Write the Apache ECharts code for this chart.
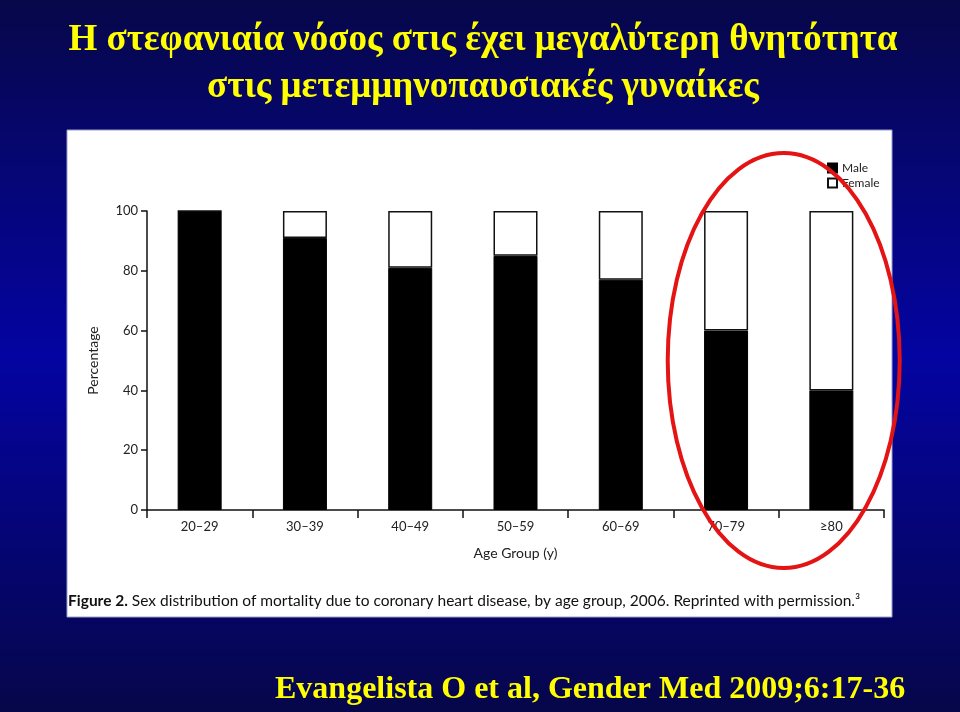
<!DOCTYPE html>
<html>
<head>
<meta charset="utf-8">
<script src="https://cdn.jsdelivr.net/npm/echarts@6/dist/echarts.min.js"></script>
<style>
  html, body { margin: 0; padding: 0; }
  #main { width: 960px; height: 712px; }
</style>
</head>
<body>
<div id="main"></div>
<script>
(function () {
    'use strict';

    // data
    var ageGroups = ['20–29', '30–39', '40–49', '50–59', '60–69', '70–79', '≥80'];
    var maleShare = [100, 91, 81, 85, 77, 60, 40];
    var femaleShare = [0, 9, 19, 15, 23, 40, 60];
    var yTicks = [0, 20, 40, 60, 80, 100];

    var titleLines = ['Η στεφανιαία νόσος στις έχει μεγαλύτερη θνητότητα', 'στις μετεμμηνοπαυσιακές γυναίκες'];
    var sourceText = 'Evangelista O et al, Gender Med 2009;6:17-36';
    var captionText = 'Sex distribution of mortality due to coronary heart disease, by age group, 2006. Reprinted with permission.³';

    var SANS = 'Lato, "Open Sans", sans-serif';
    var SERIF = '"Liberation Serif", "DejaVu Serif", serif';

    var yellowText = function (txt, x, y, size, align) {
        return {
            type: 'text',
            z: 10,
            silent: true,
            x: x,
            y: y,
            style: {
                text: txt,
                fill: '#ffff00',
                font: 'bold ' + size + 'px ' + SERIF,
                textAlign: align,
                textVerticalAlign: 'middle',
                shadowColor: 'rgba(0,0,0,0.85)',
                shadowOffsetX: 2,
                shadowOffsetY: 2,
                shadowBlur: 2
            }
        };
    };

    var chart = echarts.init(document.getElementById('main'));

    var option = {
        animation: false,
        legend: {
            orient: 'vertical',
            left: 822,
            top: 157,
            icon: 'rect',
            itemWidth: 9,
            itemHeight: 9,
            itemGap: 3,
            textStyle: { fontFamily: SANS, fontSize: 12, color: '#222' },
            data: ['Male', 'Female']
        },
        grid: { left: 147, right: 76, top: 211, bottom: 202, containLabel: false },
        xAxis: {
            type: 'category',
            data: ageGroups,
            name: 'Age Group (y)',
            nameLocation: 'middle',
            nameGap: 36,
            nameTextStyle: { fontFamily: SANS, fontSize: 14, color: '#222' },
            axisLine: { lineStyle: { color: '#111', width: 1.5 } },
            axisTick: { show: true, length: 8, inside: false, lineStyle: { color: '#111', width: 1.5 } },
            axisLabel: { fontFamily: SANS, fontSize: 13, color: '#222', margin: 10 }
        },
        yAxis: {
            type: 'value',
            min: yTicks[0],
            max: yTicks[yTicks.length - 1],
            interval: 20,
            name: 'Percentage',
            nameLocation: 'middle',
            nameGap: 47,
            nameRotate: 90,
            nameTextStyle: { fontFamily: SANS, fontSize: 14, color: '#222' },
            axisLine: { show: true, lineStyle: { color: '#111', width: 1.5 } },
            axisTick: { show: true, length: 6, lineStyle: { color: '#111', width: 1.5 } },
            axisLabel: { fontFamily: SANS, fontSize: 13, color: '#222', margin: 9 },
            splitLine: { show: false }
        },
        series: [{
            name: 'Male',
            type: 'bar',
            stack: 'sex',
            barWidth: 44,
            data: maleShare,
            itemStyle: { color: '#000', borderColor: '#000', borderWidth: 1 }
        }, {
            name: 'Female',
            type: 'bar',
            stack: 'sex',
            barWidth: 44,
            data: femaleShare,
            itemStyle: { color: '#fff', borderColor: '#111', borderWidth: 1.5 }
        }],
        graphic: [{
            id: 'bg',
            type: 'rect',
            z: -10,
            silent: true,
            shape: { x: 0, y: 0, width: 960, height: 712 },
            style: {
                fill: new echarts.graphic.LinearGradient(0, 0, 0, 1, [
                    { offset: 0, color: '#07074a' },
                    { offset: 0.5, color: '#0404a2' },
                    { offset: 1, color: '#06064a' }
                ])
            }
        }, {
            id: 'panel',
            type: 'rect',
            z: -5,
            silent: true,
            shape: { x: 67, y: 130, width: 825, height: 487 },
            style: { fill: '#ffffff', stroke: '#9aa0c8', lineWidth: 1 }
        }, {
            id: 'caption',
            type: 'text',
            z: 5,
            silent: true,
            x: 68,
            y: 601,
            style: {
                text: '{b|Figure 2.} ' + captionText,
                rich: {
                    b: { fontFamily: SANS, fontWeight: 'bold', fontSize: 15.5, fill: '#111' }
                },
                fontFamily: SANS,
                fontSize: 15.5,
                fill: '#111',
                textVerticalAlign: 'middle'
            }
        },
        Object.assign({ id: 'title1' }, yellowText(titleLines[0], 483, 40, 37, 'center')),
        Object.assign({ id: 'title2' }, yellowText(titleLines[1], 483, 87, 37, 'center')),
        Object.assign({ id: 'source' }, yellowText(sourceText, 275, 690, 32, 'left'))
        ]
    };

    chart.setOption(option);

    // red ellipse around the last two age groups, placed from the axis scales
    var p1 = chart.convertToPixel({ gridIndex: 0 }, [ageGroups[5], 0]);
    var p2 = chart.convertToPixel({ gridIndex: 0 }, [ageGroups[6], 50]);
    var pTop = chart.convertToPixel({ gridIndex: 0 }, [ageGroups[6], 100]);
    var cx = (p1[0] + p2[0]) / 2 + 5;
    var cy = p2[1];
    chart.setOption({
        graphic: [{
            id: 'ring',
            type: 'ellipse',
            z: 100,
            silent: true,
            shape: { cx: cx, cy: cy, rx: 116, ry: (p1[1] - pTop[1]) / 2 + 58 },
            style: { fill: 'none', stroke: '#e41414', lineWidth: 4 }
        }]
    });

    window.onresize = function () {
        chart.resize();
    };
})();
</script>
</body>
</html>
